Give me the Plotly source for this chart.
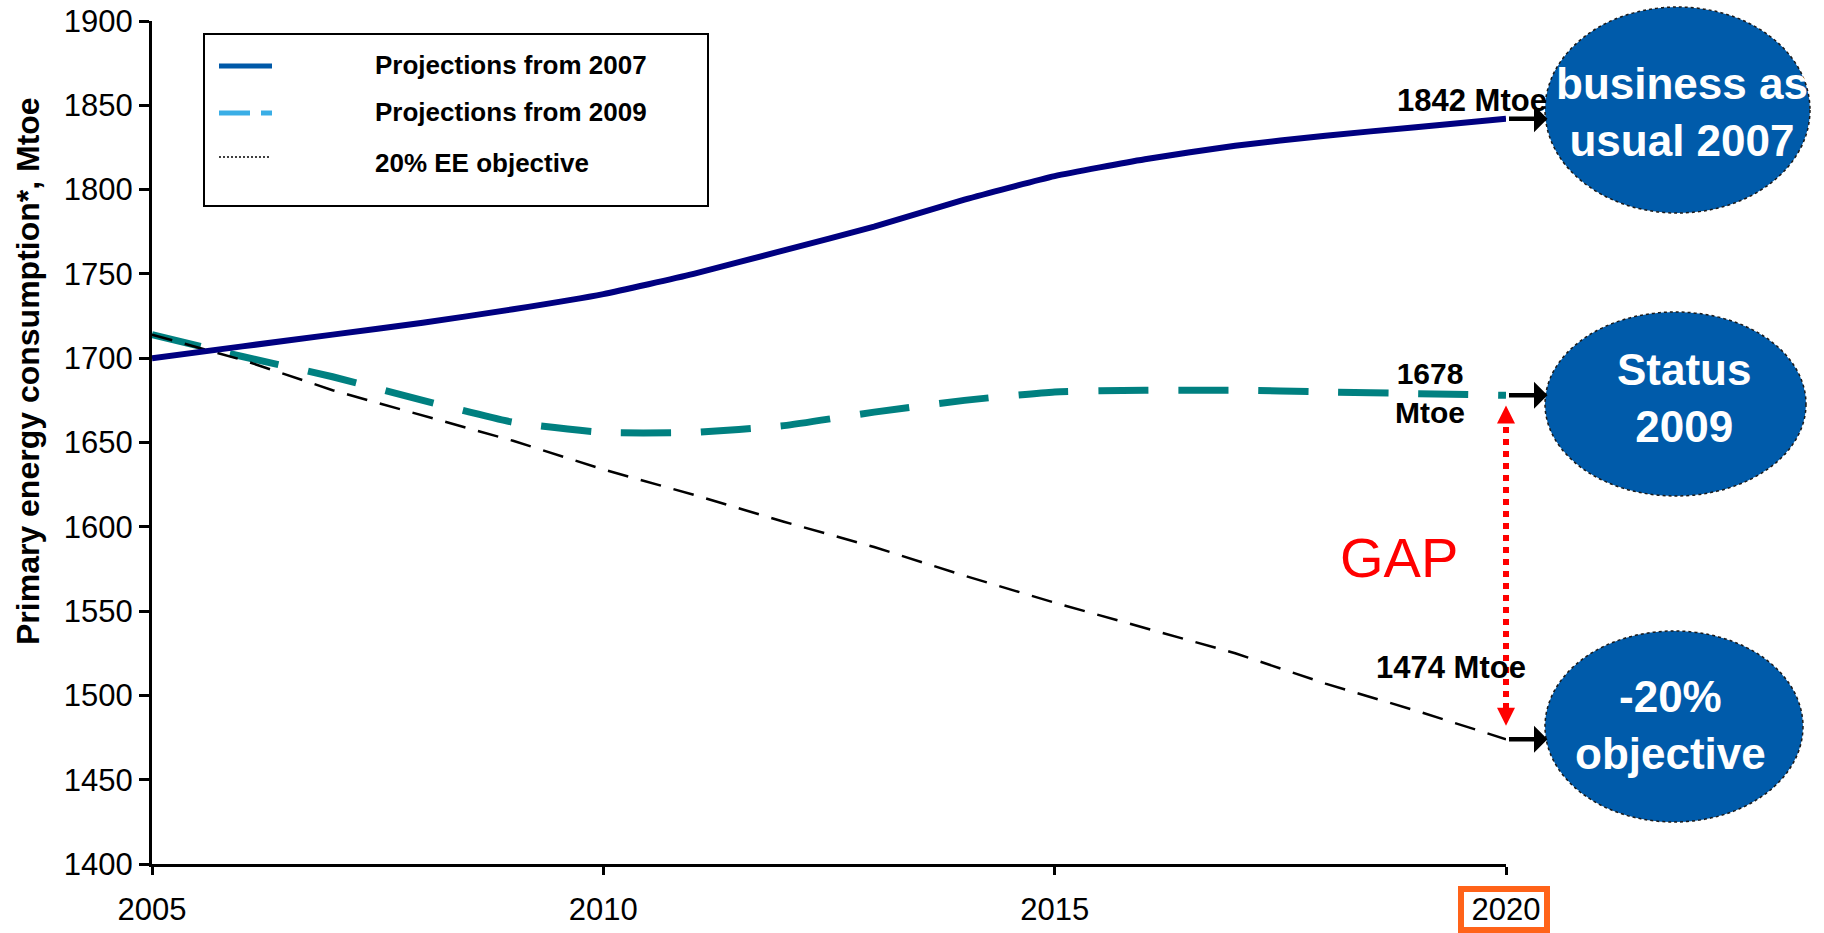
import plotly.graph_objects as go

# ---- data -------------------------------------------------------------
years = list(range(2005, 2021))
proj_2007 = [1700, 1707, 1714, 1721, 1729, 1738, 1750, 1764, 1778, 1794,
             1808, 1818, 1826, 1832, 1837, 1842]
proj_2009 = [1714, 1701, 1689, 1675, 1662, 1656, 1656, 1660, 1668, 1675,
             1680, 1681, 1681, 1680, 1679, 1678]
ee_objective = [1714, 1699, 1681, 1666, 1651, 1634, 1619, 1603, 1588, 1571,
                1555, 1540, 1525, 1507, 1491, 1474]

x_ticks = [2005, 2010, 2015, 2020]
y_ticks = list(range(1400, 1901, 50))
Y_MIN, Y_MAX = 1400, 1900

legend_labels = ["Projections from 2007", "Projections from 2009", "20% EE objective"]
bubble_labels = ["business as<br>usual 2007", "Status<br>2009", "-20%<br>objective"]
y_title = "Primary energy consumption*, Mtoe"

# ---- page geometry ----------------------------------------------------
W, H = 1824, 933
L, R, T, B = 152, 318, 21, 69
PW, PH = W - L - R, H - T - B


def px(x):
    return (x - L) / PW


def py(y):
    return (H - B - y) / PH


def vy(v):
    """data value -> paper fraction on the y axis"""
    return (v - Y_MIN) / (Y_MAX - Y_MIN)


FONT = "Liberation Sans, Arial, sans-serif"
NAVY, TEAL, BLUE = "#000080", "#008080", "#005BAA"

fig = go.Figure()

fig.add_trace(go.Scatter(x=years, y=proj_2009, mode="lines",
                         line=dict(color=TEAL, width=7, dash="50px,30px",
                                   shape="spline", smoothing=0.5),
                         showlegend=False, hoverinfo="skip"))
fig.add_trace(go.Scatter(x=years, y=ee_objective, mode="lines",
                         line=dict(color="#000000", width=2.5, dash="21px,13px"),
                         showlegend=False, hoverinfo="skip"))
fig.add_trace(go.Scatter(x=years, y=proj_2007, mode="lines",
                         line=dict(color=NAVY, width=6, shape="spline", smoothing=0.5),
                         showlegend=False, hoverinfo="skip"))

# red "gap" arrow heads between the 2009 projection and the objective in 2020
gap_top = proj_2009[-1] - 6
gap_bottom = ee_objective[-1] + 8
fig.add_trace(go.Scatter(x=[years[-1], years[-1]], y=[gap_top, gap_bottom],
                         mode="markers", cliponaxis=False,
                         marker=dict(symbol=["arrow-up", "arrow-down"], size=18,
                                     color="#FF0000", line=dict(width=0)),
                         showlegend=False, hoverinfo="skip"))

shapes = []
annotations = []

# dotted shaft of the gap arrow (paper refs so it is not clipped at the axis end)
shapes.append(dict(type="line", xref="paper", yref="paper",
                   x0=1.0, x1=1.0, y0=vy(gap_bottom + 10), y1=vy(gap_top - 10),
                   line=dict(color="#FF0000", width=6, dash="6px,6px"),
                   layer="above"))

# black pointer arrows from each 2020 end value towards its bubble
for v in (proj_2007[-1], proj_2009[-1], ee_objective[-1]):
    annotations.append(dict(x=years[-1], y=v, xref="x", yref="y", text="",
                            showarrow=True, ax=42, ay=0, arrowside="start",
                            arrowhead=2, arrowsize=1, arrowwidth=4.5,
                            arrowcolor="#000000", standoff=3, borderpad=0))

# end-value labels
lab_font = dict(family=FONT, size=31, color="#000000")
annotations += [
    dict(x=px(1472), y=py(100), xref="paper", yref="paper",
         text=f"<b>{proj_2007[-1]} Mtoe</b>", showarrow=False,
         xanchor="center", yanchor="middle", font=lab_font),
    dict(x=px(1430), y=py(393), xref="paper", yref="paper",
         text=f"<b>{proj_2009[-1]}<br>Mtoe</b>", showarrow=False,
         xanchor="center", yanchor="middle",
         font=dict(family=FONT, size=30, color="#000000")),
    dict(x=px(1451), y=py(667), xref="paper", yref="paper",
         text=f"<b>{ee_objective[-1]} Mtoe</b>", showarrow=False,
         xanchor="center", yanchor="middle", font=lab_font),
    dict(x=px(1399), y=py(557), xref="paper", yref="paper", text="GAP",
         showarrow=False, xanchor="center", yanchor="middle",
         font=dict(family=FONT, size=56, color="#FF0000")),
]

# blue bubbles on the right
bubble_boxes = [(1545, 7, 1810, 213), (1545, 312, 1806, 496), (1545, 631, 1803, 822)]
bubble_text_pos = [(1682, 112), (1684, 398), (1670, 725)]
for (x0, y0, x1, y1) in bubble_boxes:
    shapes.append(dict(type="circle", xref="paper", yref="paper",
                       x0=px(x0), x1=px(x1), y0=py(y1), y1=py(y0),
                       fillcolor=BLUE,
                       line=dict(color="#1a1a1a", width=1.5, dash="dot"),
                       layer="above"))
for (tx, ty), txt in zip(bubble_text_pos, bubble_labels):
    annotations.append(dict(x=px(tx), y=py(ty), xref="paper", yref="paper",
                            text=f"<b>{txt}</b>", showarrow=False,
                            xanchor="center", yanchor="middle",
                            font=dict(family=FONT, size=44, color="#FFFFFF")))

# legend box
shapes.append(dict(type="rect", xref="paper", yref="paper",
                   x0=px(204), x1=px(708), y0=py(206), y1=py(34),
                   line=dict(color="#000000", width=2), fillcolor="#FFFFFF",
                   layer="below"))
shapes.append(dict(type="line", xref="paper", yref="paper",
                   x0=px(219), x1=px(272), y0=py(66), y1=py(66),
                   line=dict(color="#0059A8", width=5)))
shapes.append(dict(type="line", xref="paper", yref="paper",
                   x0=px(219), x1=px(250), y0=py(113), y1=py(113),
                   line=dict(color="#3AAEE6", width=5)))
shapes.append(dict(type="line", xref="paper", yref="paper",
                   x0=px(261), x1=px(272), y0=py(113), y1=py(113),
                   line=dict(color="#3AAEE6", width=5)))
shapes.append(dict(type="line", xref="paper", yref="paper",
                   x0=px(219), x1=px(270), y0=py(157), y1=py(157),
                   line=dict(color="#000000", width=1.5, dash="2px,2px")))
for txt, yy in zip(legend_labels, (65, 112, 163)):
    annotations.append(dict(x=px(373), y=py(yy), xref="paper", yref="paper",
                            text=f"<b>{txt}</b>", showarrow=False,
                            xanchor="left", yanchor="middle",
                            font=dict(family=FONT, size=26, color="#000000")))

# orange frame around the 2020 tick label
shapes.append(dict(type="rect", xref="paper", yref="paper",
                   x0=px(1461), x1=px(1547), y0=py(930), y1=py(889),
                   line=dict(color="#FF6319", width=6)))

# y-axis title
annotations.append(dict(x=px(28), y=py(371), xref="paper", yref="paper",
                        text=f"<b>{y_title}</b>", showarrow=False, textangle=-90,
                        xanchor="center", yanchor="middle",
                        font=dict(family=FONT, size=32, color="#000000")))

fig.update_layout(
    width=W, height=H,
    margin=dict(l=L, r=R, t=T, b=B, pad=0, autoexpand=False),
    paper_bgcolor="#FFFFFF", plot_bgcolor="#FFFFFF",
    font=dict(family=FONT, color="#000000"),
    shapes=shapes, annotations=annotations,
    showlegend=False,
    xaxis=dict(range=[years[0], years[-1]], tickvals=x_ticks,
               ticktext=[str(t) for t in x_ticks], automargin=False,
               showgrid=False, zeroline=False, showline=True,
               linecolor="#000000", linewidth=3, ticks="outside",
               ticklen=8, tickwidth=3, tickcolor="#000000",
               ticklabelstandoff=8,
               tickfont=dict(family=FONT, size=31, color="#000000")),
    yaxis=dict(range=[Y_MIN, Y_MAX], tickvals=y_ticks, automargin=False,
               showgrid=False, zeroline=False, showline=True,
               linecolor="#000000", linewidth=3, ticks="outside",
               ticklen=10, tickwidth=3, tickcolor="#000000",
               tickfont=dict(family=FONT, size=31, color="#000000")),
)

fig.write_html("out.html")
